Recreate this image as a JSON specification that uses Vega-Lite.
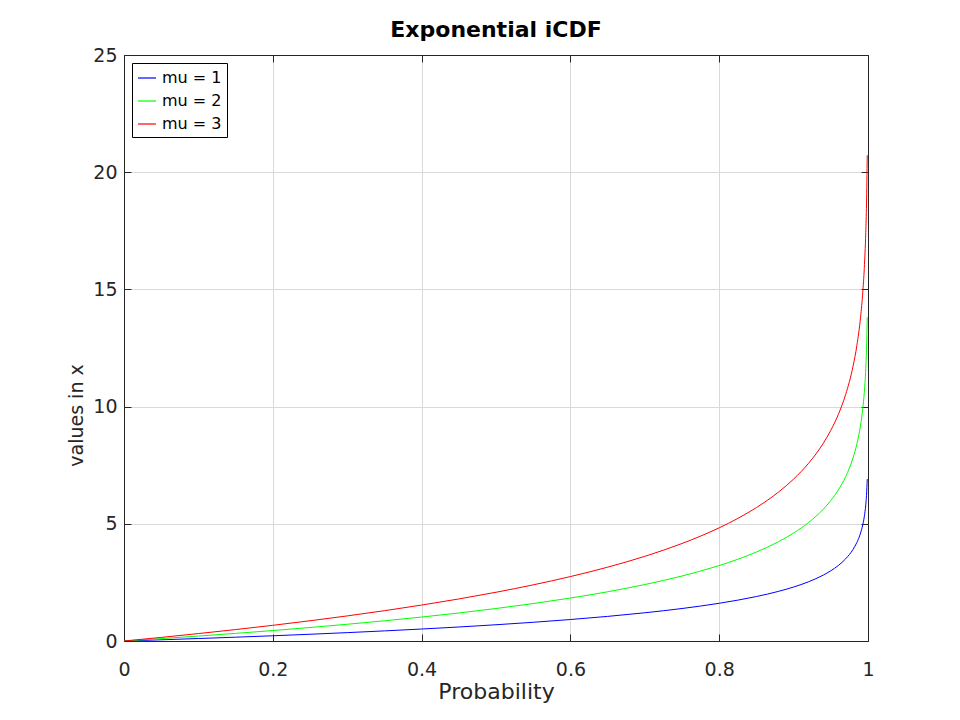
{
  "$schema": "https://vega.github.io/schema/vega-lite/v6.json",
  "description": "Exponential inverse CDF for three values of mu.",
  "autosize": "none",
  "width": 744,
  "height": 586,
  "padding": {"left": 124, "top": 55, "right": 92, "bottom": 79},
  "background": "white",
  "title": {
    "text": "Exponential iCDF",
    "font": "DejaVu Sans",
    "fontSize": 22,
    "fontWeight": "bold",
    "color": "black",
    "offset": 4
  },
  "data": {
    "values": [
      {"p": 0, "x": 0, "mu": "mu = 1"},
      {"p": 0.05, "x": 0.0513, "mu": "mu = 1"},
      {"p": 0.1, "x": 0.1054, "mu": "mu = 1"},
      {"p": 0.15, "x": 0.1625, "mu": "mu = 1"},
      {"p": 0.2, "x": 0.2231, "mu": "mu = 1"},
      {"p": 0.25, "x": 0.2877, "mu": "mu = 1"},
      {"p": 0.3, "x": 0.3567, "mu": "mu = 1"},
      {"p": 0.35, "x": 0.4308, "mu": "mu = 1"},
      {"p": 0.4, "x": 0.5108, "mu": "mu = 1"},
      {"p": 0.45, "x": 0.5978, "mu": "mu = 1"},
      {"p": 0.5, "x": 0.6931, "mu": "mu = 1"},
      {"p": 0.55, "x": 0.7985, "mu": "mu = 1"},
      {"p": 0.6, "x": 0.9163, "mu": "mu = 1"},
      {"p": 0.65, "x": 1.0498, "mu": "mu = 1"},
      {"p": 0.7, "x": 1.204, "mu": "mu = 1"},
      {"p": 0.75, "x": 1.3863, "mu": "mu = 1"},
      {"p": 0.775, "x": 1.4917, "mu": "mu = 1"},
      {"p": 0.8, "x": 1.6094, "mu": "mu = 1"},
      {"p": 0.825, "x": 1.743, "mu": "mu = 1"},
      {"p": 0.85, "x": 1.8971, "mu": "mu = 1"},
      {"p": 0.88, "x": 2.1203, "mu": "mu = 1"},
      {"p": 0.9, "x": 2.3026, "mu": "mu = 1"},
      {"p": 0.92, "x": 2.5257, "mu": "mu = 1"},
      {"p": 0.94, "x": 2.8134, "mu": "mu = 1"},
      {"p": 0.95, "x": 2.9957, "mu": "mu = 1"},
      {"p": 0.96, "x": 3.2189, "mu": "mu = 1"},
      {"p": 0.97, "x": 3.5066, "mu": "mu = 1"},
      {"p": 0.98, "x": 3.912, "mu": "mu = 1"},
      {"p": 0.985, "x": 4.1997, "mu": "mu = 1"},
      {"p": 0.99, "x": 4.6052, "mu": "mu = 1"},
      {"p": 0.993, "x": 4.9618, "mu": "mu = 1"},
      {"p": 0.995, "x": 5.2983, "mu": "mu = 1"},
      {"p": 0.997, "x": 5.8091, "mu": "mu = 1"},
      {"p": 0.998, "x": 6.2146, "mu": "mu = 1"},
      {"p": 0.999, "x": 6.9078, "mu": "mu = 1"},
      {"p": 0, "x": 0, "mu": "mu = 2"},
      {"p": 0.05, "x": 0.1026, "mu": "mu = 2"},
      {"p": 0.1, "x": 0.2107, "mu": "mu = 2"},
      {"p": 0.15, "x": 0.325, "mu": "mu = 2"},
      {"p": 0.2, "x": 0.4463, "mu": "mu = 2"},
      {"p": 0.25, "x": 0.5754, "mu": "mu = 2"},
      {"p": 0.3, "x": 0.7133, "mu": "mu = 2"},
      {"p": 0.35, "x": 0.8616, "mu": "mu = 2"},
      {"p": 0.4, "x": 1.0217, "mu": "mu = 2"},
      {"p": 0.45, "x": 1.1957, "mu": "mu = 2"},
      {"p": 0.5, "x": 1.3863, "mu": "mu = 2"},
      {"p": 0.55, "x": 1.597, "mu": "mu = 2"},
      {"p": 0.6, "x": 1.8326, "mu": "mu = 2"},
      {"p": 0.65, "x": 2.0996, "mu": "mu = 2"},
      {"p": 0.7, "x": 2.4079, "mu": "mu = 2"},
      {"p": 0.75, "x": 2.7726, "mu": "mu = 2"},
      {"p": 0.775, "x": 2.9834, "mu": "mu = 2"},
      {"p": 0.8, "x": 3.2189, "mu": "mu = 2"},
      {"p": 0.825, "x": 3.486, "mu": "mu = 2"},
      {"p": 0.85, "x": 3.7942, "mu": "mu = 2"},
      {"p": 0.88, "x": 4.2405, "mu": "mu = 2"},
      {"p": 0.9, "x": 4.6052, "mu": "mu = 2"},
      {"p": 0.92, "x": 5.0515, "mu": "mu = 2"},
      {"p": 0.94, "x": 5.6268, "mu": "mu = 2"},
      {"p": 0.95, "x": 5.9915, "mu": "mu = 2"},
      {"p": 0.96, "x": 6.4378, "mu": "mu = 2"},
      {"p": 0.97, "x": 7.0131, "mu": "mu = 2"},
      {"p": 0.98, "x": 7.824, "mu": "mu = 2"},
      {"p": 0.985, "x": 8.3994, "mu": "mu = 2"},
      {"p": 0.99, "x": 9.2103, "mu": "mu = 2"},
      {"p": 0.993, "x": 9.9237, "mu": "mu = 2"},
      {"p": 0.995, "x": 10.5966, "mu": "mu = 2"},
      {"p": 0.997, "x": 11.6183, "mu": "mu = 2"},
      {"p": 0.998, "x": 12.4292, "mu": "mu = 2"},
      {"p": 0.999, "x": 13.8155, "mu": "mu = 2"},
      {"p": 0, "x": 0, "mu": "mu = 3"},
      {"p": 0.05, "x": 0.1539, "mu": "mu = 3"},
      {"p": 0.1, "x": 0.3161, "mu": "mu = 3"},
      {"p": 0.15, "x": 0.4875, "mu": "mu = 3"},
      {"p": 0.2, "x": 0.6694, "mu": "mu = 3"},
      {"p": 0.25, "x": 0.863, "mu": "mu = 3"},
      {"p": 0.3, "x": 1.07, "mu": "mu = 3"},
      {"p": 0.35, "x": 1.2924, "mu": "mu = 3"},
      {"p": 0.4, "x": 1.5325, "mu": "mu = 3"},
      {"p": 0.45, "x": 1.7935, "mu": "mu = 3"},
      {"p": 0.5, "x": 2.0794, "mu": "mu = 3"},
      {"p": 0.55, "x": 2.3955, "mu": "mu = 3"},
      {"p": 0.6, "x": 2.7489, "mu": "mu = 3"},
      {"p": 0.65, "x": 3.1494, "mu": "mu = 3"},
      {"p": 0.7, "x": 3.6119, "mu": "mu = 3"},
      {"p": 0.75, "x": 4.1589, "mu": "mu = 3"},
      {"p": 0.775, "x": 4.4751, "mu": "mu = 3"},
      {"p": 0.8, "x": 4.8283, "mu": "mu = 3"},
      {"p": 0.825, "x": 5.229, "mu": "mu = 3"},
      {"p": 0.85, "x": 5.6913, "mu": "mu = 3"},
      {"p": 0.88, "x": 6.3608, "mu": "mu = 3"},
      {"p": 0.9, "x": 6.9078, "mu": "mu = 3"},
      {"p": 0.92, "x": 7.5772, "mu": "mu = 3"},
      {"p": 0.94, "x": 8.4402, "mu": "mu = 3"},
      {"p": 0.95, "x": 8.9872, "mu": "mu = 3"},
      {"p": 0.96, "x": 9.6566, "mu": "mu = 3"},
      {"p": 0.97, "x": 10.5197, "mu": "mu = 3"},
      {"p": 0.98, "x": 11.7361, "mu": "mu = 3"},
      {"p": 0.985, "x": 12.5991, "mu": "mu = 3"},
      {"p": 0.99, "x": 13.8155, "mu": "mu = 3"},
      {"p": 0.993, "x": 14.8855, "mu": "mu = 3"},
      {"p": 0.995, "x": 15.8949, "mu": "mu = 3"},
      {"p": 0.997, "x": 17.4274, "mu": "mu = 3"},
      {"p": 0.998, "x": 18.6438, "mu": "mu = 3"},
      {"p": 0.999, "x": 20.7233, "mu": "mu = 3"}
    ]
  },
  "layer": [
    {
      "mark": {"type": "line", "strokeWidth": 1, "clip": true, "interpolate": "monotone"},
      "encoding": {
        "x": {
          "field": "p",
          "type": "quantitative",
          "scale": {"domain": [0, 1], "nice": false, "zero": false},
          "axis": {
            "title": "Probability",
            "titleFontSize": 22,
            "values": [0, 0.2, 0.4, 0.6, 0.8, 1],
            "format": "~g",
            "grid": true,
            "labelPadding": 26,
            "titlePadding": 2
          }
        },
        "y": {
          "field": "x",
          "type": "quantitative",
          "scale": {"domain": [0, 25], "nice": false},
          "axis": {
            "title": "values in x",
            "titleFontSize": 19,
            "titleY": 360,
            "values": [0, 5, 10, 15, 20, 25],
            "grid": true,
            "labelPadding": 14,
            "titlePadding": 6
          }
        },
        "color": {
          "field": "mu",
          "type": "nominal",
          "scale": {
            "domain": ["mu = 1", "mu = 2", "mu = 3"],
            "range": ["#0000ff", "#00ff00", "#ff0000"]
          },
          "legend": {
            "title": null,
            "orient": "top-left",
            "offset": 8,
            "symbolType": "stroke",
            "symbolSize": 324,
            "symbolStrokeWidth": 1.2,
            "labelFont": "DejaVu Sans",
            "labelFontSize": 16,
            "labelColor": "black",
            "labelOffset": 5,
            "rowPadding": 5,
            "padding": 5,
            "strokeColor": "black",
            "fillColor": "white",
            "cornerRadius": 0
          }
        }
      }
    },
    {
      "mark": {"type": "line", "opacity": 0},
      "encoding": {
        "x": {
          "field": "p",
          "type": "quantitative",
          "axis": {
            "orient": "top",
            "values": [0, 0.2, 0.4, 0.6, 0.8, 1],
            "labels": false,
            "title": null,
            "grid": false
          }
        },
        "y": {
          "field": "x",
          "type": "quantitative",
          "axis": {
            "orient": "right",
            "values": [0, 5, 10, 15, 20, 25],
            "labels": false,
            "title": null,
            "grid": false
          }
        },
        "detail": {"field": "mu", "type": "nominal"}
      }
    }
  ],
  "resolve": {"axis": {"x": "independent", "y": "independent"}},
  "config": {
    "view": {"stroke": "black", "strokeWidth": 1},
    "axis": {
      "labelFont": "DejaVu Sans",
      "labelFontSize": 19,
      "labelColor": "#262626",
      "titleFont": "DejaVu Sans",
      "titleFontWeight": "normal",
      "titleColor": "#262626",
      "domainColor": "#262626",
      "tickColor": "#262626",
      "tickSize": -7,
      "gridColor": "#d9d9d9",
      "gridWidth": 1,
      "labelFlush": false
    }
  }
}
